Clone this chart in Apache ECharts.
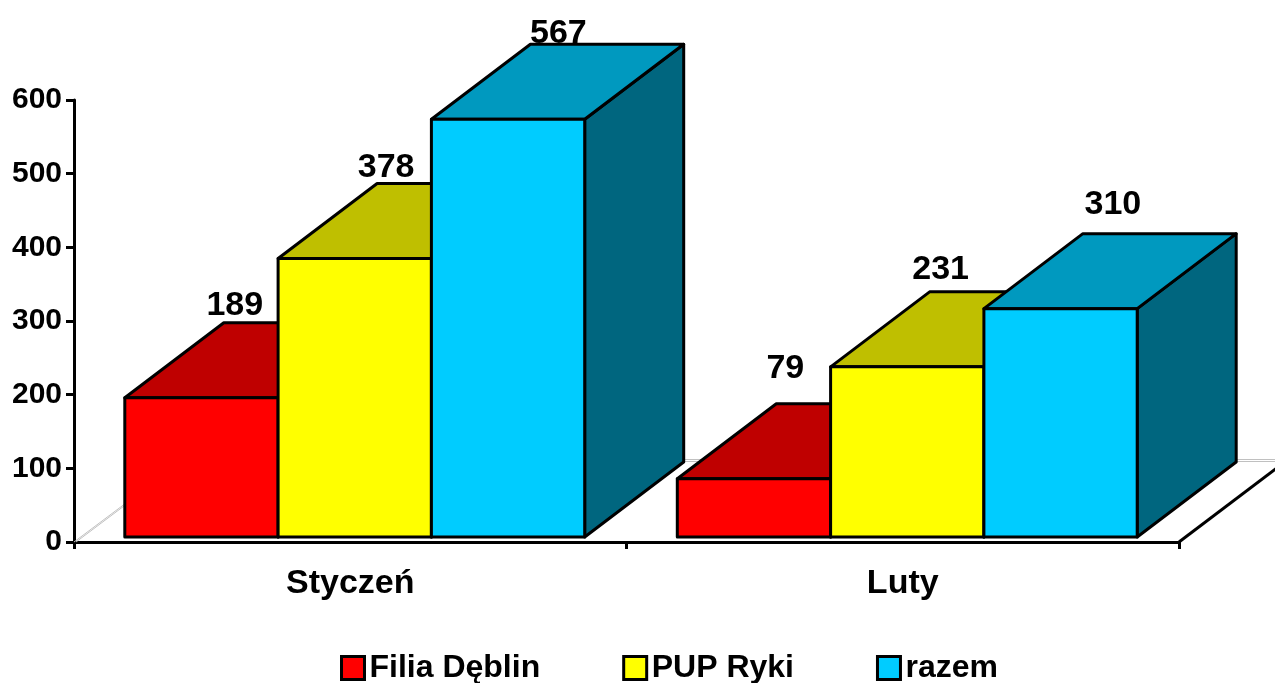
<!DOCTYPE html>
<html>
<head>
<meta charset="utf-8">
<title>Styczeń / Luty</title>
<style>
    html, body {margin: 0; padding: 0; background: #fff;}
    #main {width: 1275px; height: 683px;}
</style>
<script src="https://cdn.jsdelivr.net/npm/echarts@6/dist/echarts.min.js"></script>
</head>
<body>
<div id="main"></div>
<script>
const categories = ['Styczeń', 'Luty'];
const seriesNames = ['Filia Dęblin', 'PUP Ryki', 'razem'];
const filiaDeblin = [189, 79];
const pupRyki = [378, 231];
const razem = [567, 310];
const yTicks = ['0', '100', '200', '300', '400', '500', '600'];

//kolory: przod, gora, bok
const frontColors = ['#ff0000', '#ffff00', '#00ccff'];
const topColors = ['#bf0000', '#bfbf00', '#0099bf'];
const sideColors = ['#7f0000', '#7f7f00', '#00667f'];

//glebokosc slupka i przesuniecie przedniej sciany wzgledem osi
const depthX = 99;
const depthY = -75;
const frontX = 4.5;
const frontY = -5;
const barWidth = 153.3;

//przesuniecie etykiet od lewego gornego rogu slupka
const labelShift = [
    [[110, -92], [108, -110]],
    [[108, -91], [110, -97]],
    [[127, -86], [129, -104]]
];

const font = 'Liberation Sans, Arial, sans-serif';

const renderBar = seriesIndex => (params, api) => {
    const cat = api.value(0);
    const value = api.value(1);
    const center = api.coord([cat, value]);
    const base = api.coord([cat, 0]);
    const x0 = center[0] + frontX + (seriesIndex - 1.5) * barWidth;
    const x1 = x0 + barWidth;
    const yTop = center[1] + frontY;
    const yBase = base[1] + frontY;
    const line = {stroke: '#000', lineWidth: 3, lineJoin: 'round'};
    const shift = labelShift[seriesIndex][cat];
    return {
        type: 'group',
        children: [
            {
                type: 'polygon',
                shape: {points: [[x1, yBase], [x1 + depthX, yBase + depthY], [x1 + depthX, yTop + depthY], [x1, yTop]]},
                style: {fill: sideColors[seriesIndex], ...line}
            },
            {
                type: 'polygon',
                shape: {points: [[x0, yTop], [x0 + depthX, yTop + depthY], [x1 + depthX, yTop + depthY], [x1, yTop]]},
                style: {fill: topColors[seriesIndex], ...line}
            },
            {
                type: 'rect',
                shape: {x: x0, y: yTop, width: barWidth, height: yBase - yTop},
                style: {fill: frontColors[seriesIndex], ...line}
            },
            {
                type: 'text',
                x: x0 + shift[0],
                y: yTop + shift[1],
                style: {
                    text: String(value),
                    font: 'bold 34px ' + font,
                    fill: '#000',
                    align: 'center',
                    verticalAlign: 'middle'
                }
            }
        ]
    };
};

//podloga wykresu: szare linie i prawa krawedz
const renderFloor = (params, api) => {
    const band = api.size([1, 0])[0];
    const first = api.coord([0, 0]);
    const startX = first[0] - band / 2;
    const endX = first[0] + band * 1.5;
    const floorY = first[1];
    const gray = {stroke: '#c0c0c0', lineWidth: 1, fill: 'none'};
    const wallY = Math.round(floorY) - 82.5;
    return {
        type: 'group',
        children: [
            {type: 'line', shape: {x1: startX, y1: floorY, x2: startX + 60, y2: floorY - 45}, style: gray},
            {type: 'line', shape: {x1: startX + 2, y1: floorY, x2: startX + 62, y2: floorY - 45}, style: gray},
            {type: 'line', shape: {x1: startX + depthX, y1: wallY, x2: 1275, y2: wallY}, style: gray},
            {type: 'line', shape: {x1: startX + depthX, y1: wallY + 2, x2: 1275, y2: wallY + 2}, style: gray},
            {
                type: 'line',
                shape: {x1: endX, y1: floorY, x2: endX + depthX, y2: floorY + depthY},
                style: {stroke: '#000', lineWidth: 3}
            }
        ]
    };
};

const toPoints = values => values.map((v, i) => [i, v]);
const seriesValues = [filiaDeblin, pupRyki, razem];

const burnDown = echarts.init(document.getElementById('main'));
let option;
option = {
    animation: false,
    grid: {left: 74, right: 96, top: 100, bottom: 141},
    legend: {
        data: seriesNames,
        left: 340,
        top: 652,
        padding: 0,
        itemGap: 82,
        itemWidth: 23,
        itemHeight: 23,
        icon: 'rect',
        itemStyle: {borderColor: '#000', borderWidth: 3},
        textStyle: {fontFamily: font, fontWeight: 'bold', fontSize: 32, color: '#000'}
    },
    xAxis: {
        type: 'category',
        data: categories,
        axisLine: {lineStyle: {color: '#000', width: 3}},
        axisTick: {show: true, length: 7, lineStyle: {color: '#000', width: 3}},
        axisLabel: {fontFamily: font, fontWeight: 'bold', fontSize: 34, color: '#000', margin: 25}
    },
    yAxis: {
        type: 'value',
        min: 0,
        max: 600,
        interval: 100,
        splitLine: {show: false},
        axisLine: {show: true, lineStyle: {color: '#000', width: 3}},
        axisTick: {show: true, length: 8, lineStyle: {color: '#000', width: 3}},
        axisLabel: {
            fontFamily: font, fontWeight: 'bold', fontSize: 30, color: '#000', margin: 12,
            formatter: (v, i) => yTicks[i]
        }
    },
    series: [
        {
            type: 'custom',
            name: 'floor',
            silent: true,
            clip: false,
            z: 1,
            data: [[0, 0]],
            renderItem: renderFloor
        },
        ...seriesNames.map((name, i) => ({
            type: 'custom',
            name: name,
            clip: false,
            z: 2 + i,
            itemStyle: {color: frontColors[i], borderColor: '#000', borderWidth: 2},
            encode: {x: 0, y: 1},
            data: toPoints(seriesValues[i]),
            renderItem: renderBar(i)
        }))
    ]
};
burnDown.setOption(option);
</script>
</body>
</html>
